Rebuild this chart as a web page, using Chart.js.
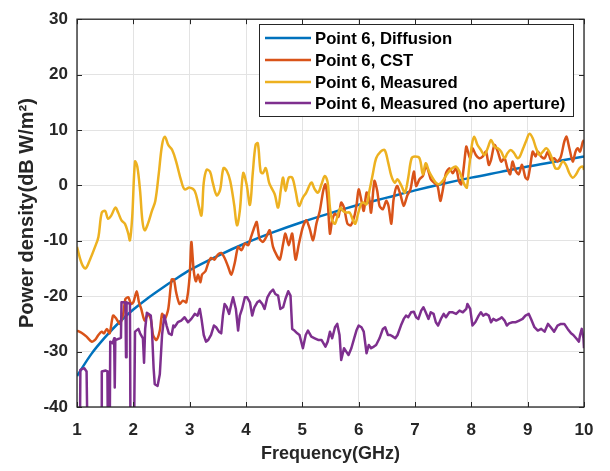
<!DOCTYPE html>
<html>
<head>
<meta charset="utf-8">
<script src="https://cdn.jsdelivr.net/npm/chart.js@4.4.1/dist/chart.umd.min.js"></script>
<style>
  html, body { margin: 0; padding: 0; background: #ffffff; }
  #wrap { width: 610px; height: 471px; }
</style>
</head>
<body>
<div id="wrap"><canvas id="c" width="610" height="471"></canvas></div>
<script>
// ---- Data ----
const seriesLabels = [
  "Point 6, Diffusion",
  "Point 6, CST",
  "Point 6, Measured",
  "Point 6, Measured (no aperture)"
];
const xTickValues = [1, 2, 3, 4, 5, 6, 7, 8, 9, 10];
const yTickValues = [-40, -30, -20, -10, 0, 10, 20, 30];

const diffusionFreq = [1.0, 1.25, 1.5, 1.75, 2.0, 2.25, 2.5, 2.75, 3.0, 3.5, 4.0, 4.5, 5.0, 5.5, 6.0, 6.5, 7.0, 7.5, 8.0, 8.5, 9.0, 9.5, 10.0];
const diffusionVal  = [-34.4, -30.5, -27.4, -24.7, -22.4, -20.4, -18.6, -16.9, -15.3, -12.7, -10.4, -8.4, -6.6, -5.0, -3.5, -2.2, -0.9, 0.3, 1.4, 2.4, 3.4, 4.3, 5.2];

const cstFreq = [1.00,1.08,1.17,1.26,1.32,1.38,1.44,1.48,1.53,1.58,1.64,1.70,1.76,1.82,1.86,1.91,1.96,2.00,2.06,2.10,2.14,2.20,2.26,2.31,2.35,2.41,2.47,2.51,2.56,2.62,2.68,2.72,2.76,2.82,2.88,2.94,3.00,3.03,3.07,3.11,3.15,3.19,3.22,3.28,3.33,3.38,3.44,3.50,3.56,3.62,3.68,3.74,3.80,3.86,3.92,3.98,4.04,4.09,4.15,4.19,4.24,4.30,4.36,4.42,4.48,4.54,4.60,4.66,4.70,4.76,4.82,4.88,4.94,5.01,5.07,5.13,5.19,5.25,5.31,5.37,5.41,5.45,5.49,5.53,5.58,5.64,5.69,5.74,5.80,5.86,5.92,5.96,6.00,6.05,6.09,6.14,6.18,6.22,6.28,6.33,6.37,6.43,6.49,6.53,6.58,6.62,6.68,6.74,6.80,6.86,6.92,6.98,7.02,7.08,7.14,7.19,7.23,7.28,7.34,7.40,7.45,7.49,7.55,7.61,7.67,7.73,7.78,7.82,7.86,7.91,7.94,7.98,8.02,8.08,8.14,8.20,8.26,8.31,8.35,8.41,8.47,8.53,8.59,8.64,8.69,8.73,8.78,8.84,8.90,8.96,9.00,9.04,9.09,9.14,9.18,9.24,9.30,9.36,9.41,9.47,9.53,9.59,9.65,9.69,9.74,9.80,9.85,9.89,9.93,9.98,10.00];
const cstVal = [-26.2,-26.6,-27.3,-28.2,-27.9,-27.0,-26.4,-26.7,-25.9,-26.7,-23.5,-24.1,-25.0,-23.2,-20.5,-20.2,-21.4,-21.1,-19.1,-21.1,-22.3,-24.4,-23.2,-24.1,-27.0,-27.9,-26.2,-23.2,-24.1,-22.3,-17.0,-17.0,-19.3,-21.4,-20.8,-21.1,-16.4,-10.2,-15.2,-17.3,-16.1,-17.5,-16.1,-15.5,-14.0,-13.1,-13.4,-12.5,-12.2,-13.1,-14.6,-16.1,-14.0,-11.1,-11.7,-10.5,-10.8,-9.3,-7.5,-6.6,-9.6,-10.2,-9.3,-8.1,-11.1,-12.5,-13.4,-10.5,-8.7,-10.8,-8.7,-13.4,-10.5,-7.5,-6.3,-7.8,-9.9,-6.9,-4.6,-1.0,0.2,-2.8,-8.7,-6.3,-5.1,-5.7,-3.1,-4.0,-6.9,-7.2,-5.7,-3.7,-0.7,-2.8,-4.6,-1.3,-1.9,-4.9,0.8,-1.0,-3.7,-4.3,-2.8,-3.7,-6.9,-2.5,-0.1,-1.6,-3.7,-1.9,-0.7,2.5,-0.1,1.1,1.7,3.4,2.8,1.1,0.5,-0.1,-2.8,-1.0,2.2,3.1,2.2,3.1,0.8,0.2,2.8,7.0,6.1,4.9,6.7,5.5,4.9,5.2,6.1,3.7,4.6,7.3,6.1,4.3,4.9,3.1,2.0,4.3,2.8,2.0,3.7,1.4,1.1,3.1,6.1,5.2,6.1,5.2,4.9,6.1,4.6,4.9,4.3,5.2,7.9,8.8,6.7,4.3,6.1,6.7,6.1,7.9,8.2];

const measFreq = [1.00,1.08,1.15,1.23,1.32,1.38,1.44,1.50,1.55,1.61,1.68,1.73,1.79,1.85,1.91,1.94,1.98,2.03,2.07,2.12,2.16,2.20,2.26,2.33,2.39,2.45,2.51,2.56,2.62,2.69,2.76,2.85,2.91,3.00,3.09,3.16,3.21,3.25,3.30,3.36,3.41,3.48,3.54,3.60,3.66,3.72,3.79,3.84,3.89,3.95,4.01,4.07,4.12,4.17,4.21,4.26,4.30,4.35,4.41,4.45,4.51,4.57,4.62,4.66,4.70,4.76,4.82,4.88,4.94,5.01,5.07,5.16,5.22,5.28,5.34,5.40,5.45,5.49,5.53,5.58,5.64,5.68,5.72,5.78,5.84,5.90,5.94,5.99,6.04,6.08,6.14,6.19,6.25,6.31,6.39,6.46,6.52,6.58,6.64,6.69,6.76,6.82,6.88,6.94,7.00,7.08,7.14,7.19,7.25,7.31,7.37,7.43,7.49,7.58,7.66,7.73,7.79,7.85,7.89,7.92,7.96,8.01,8.05,8.11,8.17,8.23,8.29,8.35,8.41,8.47,8.53,8.59,8.64,8.70,8.76,8.82,8.86,8.92,8.98,9.03,9.09,9.15,9.21,9.27,9.33,9.38,9.43,9.49,9.55,9.62,9.68,9.74,9.80,9.86,9.92,9.98,10.00];
const measVal = [-11.1,-14.0,-15.0,-13.4,-11.1,-9.3,-4.9,-4.6,-6.0,-5.4,-4.0,-4.9,-6.3,-6.9,-8.7,-9.9,-5.7,4.3,3.4,-1.0,-6.3,-8.1,-6.9,-4.6,-2.8,2.0,7.3,8.8,7.3,6.4,4.3,0.8,-0.7,-0.4,-1.0,-3.7,-5.4,0.5,2.8,2.5,0.5,-1.8,-0.8,3.1,2.6,0.8,-3.5,-7.2,-4.6,2.2,0.2,-3.5,2.2,7.3,7.6,2.5,2.2,3.1,0.5,-0.4,-1.6,-4.0,-0.7,1.4,-1.0,1.4,1.4,-1.0,-3.7,-2.2,-1.3,0.5,-0.7,-1.3,0.2,1.7,0.5,-4.0,-6.3,-6.9,-4.9,-4.0,-4.6,-4.9,-4.9,-6.3,-6.9,-5.1,-3.4,-3.1,-3.4,-1.0,2.0,4.9,6.1,6.4,4.3,1.7,0.5,1.1,-0.1,-1.3,1.4,4.9,5.2,4.9,2.0,4.0,2.5,1.4,0.5,0.2,0.8,2.2,3.1,3.4,2.5,0.8,-0.1,-0.4,3.1,7.3,8.8,7.3,6.4,5.5,6.7,8.2,7.0,6.7,6.1,4.9,5.8,6.4,5.8,4.9,5.2,6.7,8.2,9.3,8.5,6.7,5.5,6.1,6.7,6.1,4.9,3.1,3.1,4.3,3.7,2.2,1.4,2.0,3.1,3.4,2.8];

const noApFreq = [1.00,1.05,1.06,1.13,1.17,1.19,1.43,1.44,1.51,1.54,1.55,1.58,1.59,1.63,1.66,1.67,1.68,1.76,1.78,1.79,1.84,1.86,1.87,1.88,1.94,1.95,2.01,2.03,2.09,2.12,2.17,2.19,2.21,2.24,2.31,2.33,2.36,2.38,2.43,2.47,2.51,2.55,2.59,2.63,2.68,2.71,2.73,2.79,2.85,2.91,2.97,3.03,3.09,3.14,3.18,3.21,3.25,3.29,3.33,3.38,3.43,3.47,3.52,3.56,3.59,3.62,3.66,3.70,3.74,3.77,3.82,3.86,3.89,3.93,3.98,4.02,4.07,4.11,4.15,4.20,4.24,4.29,4.33,4.38,4.43,4.48,4.52,4.57,4.61,4.66,4.70,4.75,4.79,4.82,4.86,4.91,4.95,5.01,5.06,5.10,5.16,5.22,5.28,5.34,5.41,5.45,5.49,5.53,5.58,5.62,5.66,5.69,5.74,5.78,5.82,5.87,5.92,5.96,6.00,6.05,6.09,6.14,6.18,6.22,6.27,6.31,6.37,6.43,6.47,6.52,6.56,6.61,6.65,6.69,6.75,6.80,6.84,6.88,6.93,6.98,7.02,7.06,7.11,7.15,7.19,7.24,7.28,7.33,7.37,7.41,7.46,7.51,7.55,7.61,7.67,7.73,7.79,7.85,7.91,7.93,7.98,8.02,8.07,8.13,8.17,8.21,8.26,8.31,8.35,8.39,8.44,8.50,8.54,8.59,8.63,8.67,8.73,8.79,8.85,8.91,8.96,9.02,9.06,9.12,9.18,9.24,9.30,9.36,9.41,9.47,9.53,9.59,9.65,9.71,9.77,9.81,9.86,9.91,9.93,9.96,9.99,10.00];
const noApVal = [-48,-48,-33.3,-33.0,-33.6,-48,-48,-33.6,-33.4,-33.6,-48,-48,-28.2,-28.5,-27.6,-36.5,-27.9,-27.6,-27.5,-21.1,-21.1,-21.4,-31.0,-21.1,-21.4,-48,-48,-26.4,-25.9,-26.7,-27.6,-32.0,-25.9,-23.0,-23.5,-25.9,-33.0,-35.9,-36.2,-34.1,-27.0,-23.5,-25.3,-26.7,-27.0,-25.3,-25.6,-24.7,-24.4,-23.8,-24.7,-24.1,-23.2,-23.5,-22.3,-24.1,-27.0,-28.2,-27.9,-27.0,-25.3,-25.6,-26.4,-26.7,-23.5,-21.4,-22.0,-23.2,-21.4,-20.2,-22.3,-26.2,-23.5,-22.3,-20.2,-20.2,-21.1,-23.5,-22.0,-21.1,-20.8,-21.4,-22.3,-20.2,-19.3,-18.8,-19.6,-19.9,-22.3,-22.0,-20.5,-19.1,-19.9,-25.9,-26.2,-26.7,-27.0,-29.4,-27.0,-26.2,-27.3,-27.6,-27.9,-27.9,-29.1,-28.2,-26.4,-27.6,-25.6,-25.0,-27.0,-31.5,-29.4,-30.0,-30.6,-29.4,-27.6,-26.2,-25.3,-25.6,-26.4,-30.3,-28.8,-29.4,-29.1,-28.8,-27.6,-25.9,-25.6,-27.0,-27.0,-27.3,-27.6,-27.0,-25.3,-24.1,-23.5,-23.8,-22.9,-22.8,-23.8,-24.1,-22.6,-22.0,-22.9,-24.1,-22.9,-23.2,-24.7,-25.3,-24.1,-23.2,-23.8,-22.9,-22.9,-23.2,-22.6,-22.9,-22.3,-21.4,-22.3,-25.3,-24.7,-23.5,-22.9,-23.5,-23.2,-23.5,-24.7,-24.1,-24.4,-24.1,-23.8,-24.4,-25.3,-24.9,-24.7,-24.7,-24.4,-24.1,-23.5,-23.2,-24.1,-25.6,-26.2,-25.9,-26.4,-25.0,-25.6,-26.4,-25.3,-25.0,-25.0,-25.9,-26.7,-27.0,-27.6,-28.2,-27.0,-25.9,-27.6,-29.4];

const seriesColors = ["#0072BD", "#D95319", "#EDB120", "#7E2F8E"];

// ---- Build chart structures ----
function pts(xs, ys) { return xs.map((x, i) => ({ x: x, y: ys[i] })); }

const frameColor = "#262626";
const FONT = "'Liberation Sans', Arial, Helvetica, sans-serif";

const framePlugin = {
  id: 'matlabFrame',
  afterDatasetsDraw(chart) {
    const { ctx, chartArea: a, scales } = chart;
    ctx.save();
    ctx.strokeStyle = frameColor;
    ctx.lineWidth = 1;
    const tl = 5;
    ctx.beginPath();
    xTickValues.forEach(v => {
      const px = Math.round(scales.x.getPixelForValue(v)) + 0.5;
      ctx.moveTo(px, a.bottom); ctx.lineTo(px, a.bottom - tl);
      ctx.moveTo(px, a.top); ctx.lineTo(px, a.top + tl);
    });
    yTickValues.forEach(v => {
      const py = Math.round(scales.y.getPixelForValue(v)) + 0.5;
      ctx.moveTo(a.left, py); ctx.lineTo(a.left + tl, py);
      ctx.moveTo(a.right, py); ctx.lineTo(a.right - tl, py);
    });
    ctx.stroke();
    ctx.lineWidth = 1.3;
    ctx.strokeRect(a.left, a.top, a.right - a.left, a.bottom - a.top);
    ctx.restore();
  },
  afterDraw(chart) {
    const { ctx } = chart;
    const bx = 259, by = 24, bw = 314, bh = 92;
    ctx.save();
    ctx.fillStyle = "#ffffff";
    ctx.fillRect(bx, by, bw, bh);
    ctx.strokeStyle = frameColor;
    ctx.lineWidth = 1;
    ctx.strokeRect(bx + 0.5, by + 0.5, bw, bh);
    const rows = [38, 60, 82, 103];
    chart.data.datasets.forEach((ds, i) => {
      const y = rows[i];
      ctx.strokeStyle = ds.borderColor;
      ctx.lineWidth = 2.5;
      ctx.beginPath();
      ctx.moveTo(265, y); ctx.lineTo(311, y);
      ctx.stroke();
      ctx.fillStyle = "#000000";
      ctx.font = "bold 16.7px " + FONT;
      ctx.textBaseline = "middle";
      ctx.textAlign = "left";
      ctx.fillText(ds.label, 315, y + 1);
    });
    ctx.restore();
  }
};

const datasets = [
  { label: seriesLabels[0], data: pts(diffusionFreq, diffusionVal), borderColor: seriesColors[0], cubicInterpolationMode: 'monotone', order: 4 },
  { label: seriesLabels[1], data: pts(cstFreq, cstVal), borderColor: seriesColors[1], tension: 0.25, order: 3 },
  { label: seriesLabels[2], data: pts(measFreq, measVal), borderColor: seriesColors[2], tension: 0.35, order: 2 },
  { label: seriesLabels[3], data: pts(noApFreq, noApVal), borderColor: seriesColors[3], tension: 0, order: 1 }
].map(d => Object.assign({ borderWidth: 2.5, pointRadius: 0, fill: false, clip: 0, borderJoinStyle: 'round' }, d));

new Chart(document.getElementById('c'), {
  type: 'line',
  data: { datasets: datasets },
  plugins: [framePlugin],
  options: {
    responsive: false,
    animation: false,
    devicePixelRatio: 1,
    layout: { padding: { top: 12, right: 26, left: 0, bottom: 0 } },
    plugins: { legend: { display: false }, tooltip: { enabled: false } },
    scales: {
      x: {
        type: 'linear', min: 1, max: 10,
        afterFit(s) { s.height = 64; },
        afterBuildTicks(s) { s.ticks = xTickValues.map(v => ({ value: v })); },
        grid: { color: '#e3e3e3', lineWidth: 1, drawTicks: false },
        border: { display: false },
        ticks: { color: frameColor, padding: 13, font: { family: FONT, size: 17, weight: 'bold' }, maxRotation: 0 },
        title: { display: true, text: 'Frequency(GHz)', color: frameColor, padding: { top: 0, bottom: 6 }, font: { family: FONT, size: 18, weight: 'bold' } }
      },
      y: {
        type: 'linear', min: -40, max: 30,
        afterFit(s) { s.width = 77; },
        afterBuildTicks(s) { s.ticks = yTickValues.map(v => ({ value: v })); },
        grid: { color: '#e3e3e3', lineWidth: 1, drawTicks: false },
        border: { display: false },
        ticks: { color: frameColor, padding: 9, font: { family: FONT, size: 17, weight: 'bold' } },
        title: { display: true, text: 'Power density(dB W/m²)', color: frameColor, padding: { top: 15, bottom: 0 }, font: { family: FONT, size: 20, weight: 'bold' } }
      }
    }
  }
});
</script>
</body>
</html>
